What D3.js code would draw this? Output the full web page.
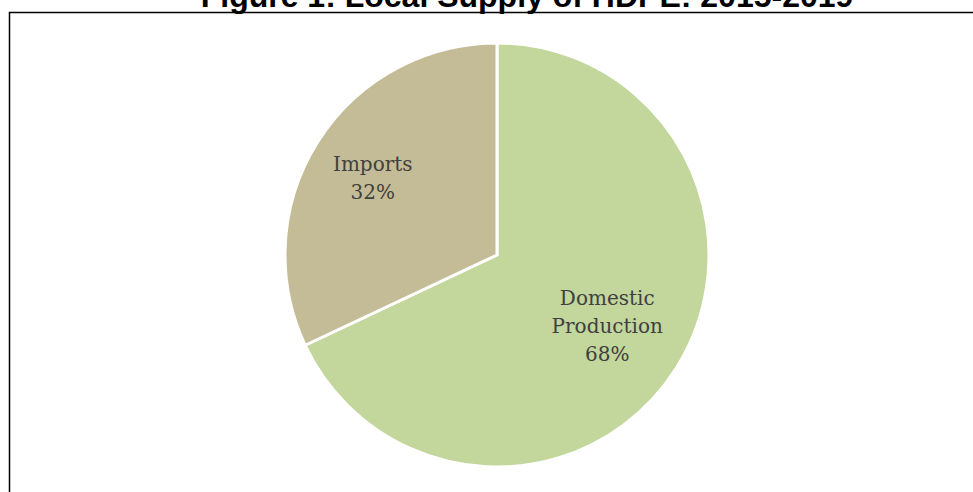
<!DOCTYPE html>
<html>
<head>
<meta charset="utf-8">
<script src="https://cdn.jsdelivr.net/npm/d3@7"></script>
<style>
  body { margin: 0; background: #fff; }
  svg { display: block; }
</style>
</head>
<body>
<div id="chart"></div>
<script>
var width = 973,
	height = 492;

// chart data
var title = "Figure 1: Local Supply of HDPE: 2015-2019";
var categories = ["Domestic Production", "Imports"];
var labelLines = [["Domestic", "Production"], ["Imports"]];
var shares = [68, 32];
var colors = ["#C3D69B", "#C4BC96"];

var cx = 497, cy = 255, radius = 212;

var svg = d3.select("#chart")
	.append("svg")
		.attr("width", width)
		.attr("height", height)

// frame around the figure (runs off the right and bottom)
svg.append("rect")
	.attr("x", 9.5)
	.attr("y", 12.5)
	.attr("width", 1100)
	.attr("height", 600)
	.attr("fill", "none")
	.attr("stroke", "#000")
	.attr("stroke-width", 1.5)

// title sits above the frame, mostly cropped off like in the source
svg.append("text")
	.attr("x", 527)
	.attr("y", 7)
	.attr("text-anchor", "middle")
	.style("font-family", "'Liberation Sans', Arial, sans-serif")
	.style("font-weight", "bold")
	.style("font-size", "32px")
	.attr("fill", "#000")
	.text(title)

var data = categories.map(function(c, i){
	return { name: c, value: shares[i], color: colors[i], lines: labelLines[i] };
});

var pie = d3.pie()
	.sort(null)
	.value(function(d){ return d.value; });

var arc = d3.arc()
	.innerRadius(0)
	.outerRadius(radius);

var labelArc = d3.arc()
	.innerRadius(radius * 0.655)
	.outerRadius(radius * 0.655);

var g = svg.append("g")
	.attr("transform", "translate(" + cx + "," + cy + ")")

var slices = pie(data);

g.selectAll(".slice")
	.data(slices)
	.enter()
	.append("path")
		.classed("slice", true)
		.attr("d", arc)
		.attr("fill", function(d){ return d.data.color; })
		.attr("stroke", "#fff")
		.attr("stroke-width", 3)
		.attr("stroke-linejoin", "round")

var lineH = 28;

var labels = g.append("g")
	.attr("transform", "translate(-7,-3)")
	.selectAll(".label")
	.data(slices)
	.enter()
	.append("text")
		.classed("label", true)
		.attr("text-anchor", "middle")
		.style("font-family", "'DejaVu Serif', Cambria, serif")
		.style("font-size", "20px")
		.attr("fill", "#404040")
		.attr("transform", function(d){
			var c = labelArc.centroid(d);
			var n = d.data.lines.length + 1;
			// vertically centre the block of lines on the centroid
			var top = c[1] - (n - 1) * lineH / 2 + 7;
			return "translate(" + c[0] + "," + top + ")";
		})

labels.each(function(d){
	var t = d3.select(this);
	var lines = d.data.lines.concat([d.data.value + "%"]);
	lines.forEach(function(l, i){
		t.append("tspan")
			.attr("x", 0)
			.attr("y", i * lineH)
			.text(l)
	});
});
</script>
</body>
</html>
